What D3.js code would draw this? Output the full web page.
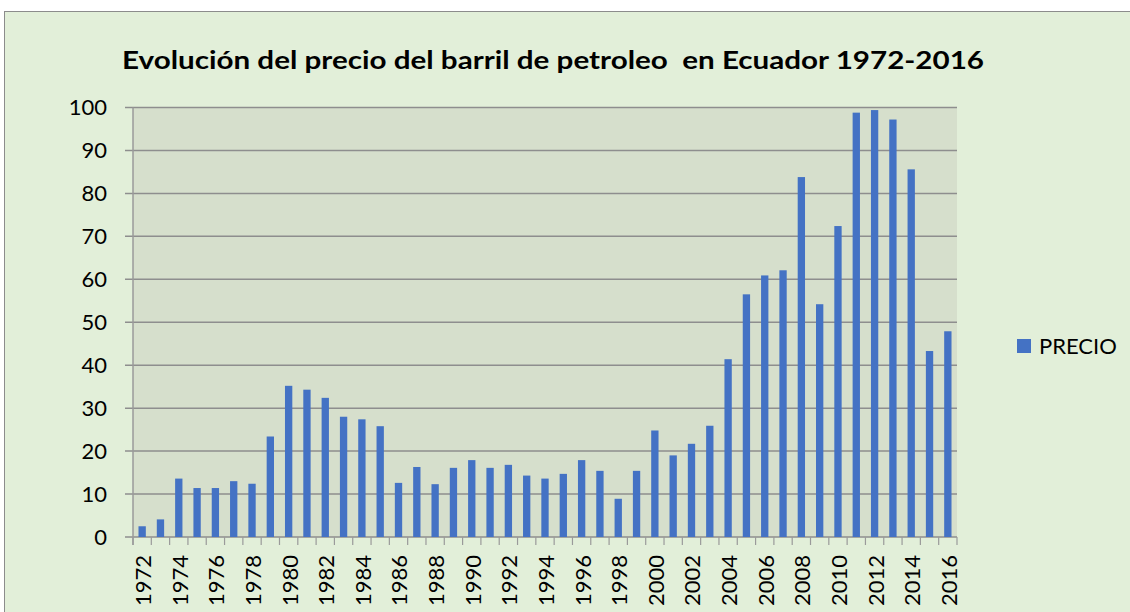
<!DOCTYPE html>
<html>
<head>
<meta charset="utf-8">
<script src="https://cdn.jsdelivr.net/npm/d3@7"></script>
<style>
  body { margin: 0; background: #fff; }
  text { font-family: Lato, "Open Sans", sans-serif; fill: #000; }
</style>
</head>
<body>
<script>
// data
var years = d3.range(1972, 2017).map(String);
var precio = [2.5, 4.1, 13.6, 11.4, 11.4, 13.0, 12.4, 23.4, 35.2, 34.3,
              32.4, 28.0, 27.4, 25.8, 12.6, 16.3, 12.3, 16.1, 17.9, 16.1,
              16.8, 14.3, 13.6, 14.7, 17.9, 15.4, 8.9, 15.4, 24.8, 19.0,
              21.7, 25.9, 41.4, 56.5, 60.9, 62.1, 83.8, 54.2, 72.4, 98.8,
              99.4, 97.2, 85.6, 43.3, 47.9];
var yTicks = [0, 10, 20, 30, 40, 50, 60, 70, 80, 90, 100];

var width = 1130, height = 612;
var margin = {left: 133, right: 173, top: 107.5, bottom: 75};

var svg = d3.select('body').append('svg')
  .attr('width', width)
  .attr('height', height);

// chart area background
svg.append('rect')
  .attr('x', 4.5).attr('y', 11.5)
  .attr('width', width).attr('height', height)
  .attr('fill', '#e2efd9')
  .attr('stroke', '#8c8c8c')
  .attr('stroke-width', 1);

var x = d3.scaleBand()
  .domain(years)
  .range([margin.left, width - margin.right])
  .paddingInner(0.6)
  .paddingOuter(0.3);

var y = d3.scaleLinear()
  .domain([0, 100])
  .range([height - margin.bottom, margin.top]);

// plot area
svg.append('rect')
  .attr('x', margin.left).attr('y', margin.top)
  .attr('width', width - margin.right - margin.left)
  .attr('height', y(0) - y(100))
  .attr('fill', '#d6dfcc');

// gridlines
svg.append('g')
  .selectAll('line')
  .data(yTicks)
  .enter().append('line')
  .attr('x1', margin.left - 8)
  .attr('x2', width - margin.right)
  .attr('y1', function(d) { return y(d); })
  .attr('y2', function(d) { return y(d); })
  .attr('stroke', '#8e8e8e')
  .attr('stroke-width', 1.5);

// y axis labels
svg.append('g')
  .selectAll('text')
  .data(yTicks)
  .enter().append('text')
  .attr('x', margin.left - 26)
  .attr('y', function(d) { return y(d); })
  .attr('dy', '0.36em')
  .attr('text-anchor', 'end')
  .style('font-size', '22px')
  .text(function(d) { return d; });

// left axis line
svg.append('line')
  .attr('x1', margin.left).attr('x2', margin.left)
  .attr('y1', y(100)).attr('y2', y(0) + 8)
  .attr('stroke', '#9a9a9a')
  .attr('stroke-width', 1.5);

// bars
svg.append('g')
  .selectAll('rect')
  .data(precio)
  .enter().append('rect')
  .attr('x', function(d, i) { return x(years[i]); })
  .attr('y', function(d) { return y(d); })
  .attr('width', x.bandwidth())
  .attr('height', function(d) { return y(0) - y(d); })
  .attr('fill', '#4472c4');

// x ticks at slot boundaries
var bounds = d3.range(years.length + 1).map(function(i) {
  return margin.left + i * (width - margin.right - margin.left) / years.length;
});
svg.append('g')
  .selectAll('line')
  .data(bounds)
  .enter().append('line')
  .attr('x1', function(d) { return d; })
  .attr('x2', function(d) { return d; })
  .attr('y1', y(0))
  .attr('y2', y(0) + 8)
  .attr('stroke', '#9a9a9a')
  .attr('stroke-width', 1.2);

// x labels, every other year
svg.append('g')
  .selectAll('text')
  .data(years.filter(function(d, i) { return i % 2 === 0; }))
  .enter().append('text')
  .attr('transform', function(d) {
    return 'translate(' + (x(d) + x.bandwidth() / 2 + 1) + ',' + (y(0) + 18) + ') rotate(-90)';
  })
  .attr('dy', '0.36em')
  .attr('text-anchor', 'end')
  .style('font-size', '22px')
  .text(function(d) { return d; });

// title
svg.append('text')
  .attr('x', 553)
  .attr('y', 69)
  .attr('text-anchor', 'middle')
  .attr('textLength', 862)
  .attr('lengthAdjust', 'spacingAndGlyphs')
  .style('font-size', '25px')
  .style('font-weight', 'bold')
  .style('white-space', 'pre')
  .text('Evolución del precio del barril de petroleo  en Ecuador 1972-2016');

// legend
svg.append('rect')
  .attr('x', 1017).attr('y', 339)
  .attr('width', 14).attr('height', 14)
  .attr('fill', '#4472c4');
svg.append('text')
  .attr('x', 1039)
  .attr('y', 354)
  .style('font-size', '22px')
  .text('PRECIO');
</script>
</body>
</html>
